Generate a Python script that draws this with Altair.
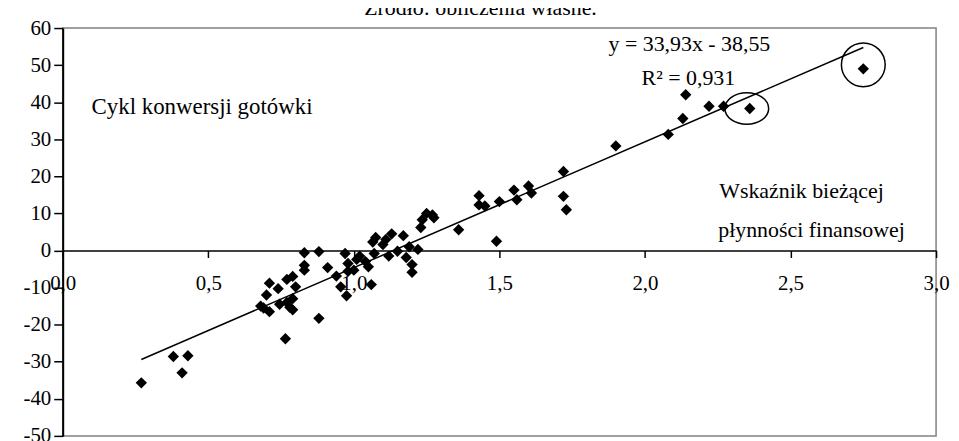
import altair as alt
import pandas as pd

FONT = "Liberation Serif"

# scatter values
x_vals = [0.27, 0.38, 0.41, 0.43,
          0.68, 0.69, 0.70, 0.71, 0.71, 0.74, 0.745, 0.765, 0.77, 0.77, 0.78, 0.79, 0.79, 0.79, 0.80,
          0.83, 0.83, 0.83, 0.88, 0.88, 0.91, 0.94, 0.955, 0.975, 0.97, 0.98, 0.98, 1.00, 1.01, 1.02,
          1.04, 1.05, 1.06, 1.065, 1.07,
          1.075, 1.10, 1.11, 1.12, 1.13, 1.15, 1.17, 1.18, 1.19, 1.20, 1.20, 1.22, 1.23, 1.235, 1.25,
          1.27, 1.275, 1.36,
          1.43, 1.43, 1.45, 1.49, 1.50, 1.55, 1.56, 1.60, 1.61, 1.72, 1.72, 1.73, 1.90, 2.08, 2.13,
          2.14, 2.22, 2.27, 2.36, 2.75]
y_vals = [-35.7, -28.6, -33.0, -28.4,
          -15.0, -15.5, -12.0, -8.8, -16.5, -10.3, -14.5, -23.8, -7.8, -14.0, -15.3, -7.0, -13.0, -16.0, -9.8,
          -0.6, -4.0, -5.3, -0.3, -18.3, -4.6, -6.9, -9.8, -12.2, -0.8, -3.5, -5.6, -5.3, -2.4, -1.5,
          -3.0, -4.4, -9.2, 2.3, -0.8,
          3.5, 1.6, 3.0, -1.5, 4.5, -0.2, 4.0, -1.9, 1.0, -3.8, -5.9, 0.3, 6.2, 8.3, 10.0,
          9.6, 8.8, 5.6,
          14.8, 12.3, 12.0, 2.5, 13.2, 16.3, 13.7, 17.4, 15.5, 21.3, 14.6, 11.0, 28.2, 31.3, 35.6,
          42.0, 38.9, 38.9, 38.3, 49.0]

# trend line (linear regression shown in the picture)
slope = 33.93
intercept = -38.55
trend_x = [0.27, 2.75]

# circled outliers
ellipse_x = [2.36]
ellipse_y = [38.3]
circle_x = [2.75]
circle_y = [49.0]

x_ticks = [0.0, 0.5, 1.0, 1.5, 2.0, 2.5, 3.0]
y_ticks = [-50, -40, -30, -20, -10, 0, 10, 20, 30, 40, 50, 60]

title_text = "Źródło: obliczenia własne."
eq_text = "y = 33,93x - 38,55"
r2_text = "R² = 0,931"
y_name = "Cykl konwersji gotówki"
x_name_1 = "Wskaźnik bieżącej"
x_name_2 = "płynności finansowej"

W, H = 878, 410

df = pd.DataFrame({"x": x_vals, "y": y_vals})
trend_df = pd.DataFrame({"x": trend_x, "y": [slope * v + intercept for v in trend_x]})

xscale = alt.Scale(domain=[0, 3], nice=False, zero=False)
yscale = alt.Scale(domain=[-50, 60], nice=False, zero=False)

x_axis = alt.Axis(values=x_ticks, title=None, grid=False, domainColor="black", domainWidth=1.5,
                  tickColor="black", tickWidth=1.5, tickSize=7, labelFont=FONT, labelFontSize=21,
                  labelColor="black", labelPadding=15, labelFlush=False, labelOverlap=False,
                  labelBound=False,
                  labelExpr="replace(format(datum.value, '.1f'), '.', ',')",
                  offset=-(H * 50 / 110))
y_axis = alt.Axis(values=y_ticks, title=None, grid=False, domainColor="black", domainWidth=2,
                  tickColor="black", tickWidth=1.5, tickSize=9, labelFont=FONT, labelFontSize=21,
                  labelColor="black", labelPadding=3, labelFlush=False, labelOverlap=False,
                  labelBound=False, labelSeparation=0,
                  labelExpr="'' + datum.value")


def X():
    return alt.X("x:Q", scale=xscale, axis=x_axis)


def Y():
    return alt.Y("y:Q", scale=yscale, axis=y_axis)


points = alt.Chart(df).mark_point(shape="diamond", filled=True, color="black", size=130, opacity=1).encode(
    x=X(), y=Y())

trend = alt.Chart(trend_df).mark_line(color="black", strokeWidth=1.5).encode(x=X(), y=Y())

ellipse = alt.Chart(pd.DataFrame({"x": ellipse_x, "y": ellipse_y})).mark_point(
    shape="M-1,0 A1,0.72 0 1,0 1,0 A1,0.72 0 1,0 -1,0 Z", filled=False, color="black",
    strokeWidth=1.5, size=1936, opacity=1, xOffset=-3).encode(x=X(), y=Y())

circle = alt.Chart(pd.DataFrame({"x": circle_x, "y": circle_y})).mark_point(
    shape="circle", filled=False, color="black", strokeWidth=1.5, size=1936, opacity=1,
    yOffset=-4).encode(x=X(), y=Y())


def label(text, x, y, align, size=22):
    return alt.Chart(pd.DataFrame({"t": [text]})).mark_text(
        align=align, baseline="alphabetic", font=FONT, fontSize=size, color="black").encode(
        x=alt.value(x), y=alt.value(y), text="t:N")


chart = alt.layer(
    points, trend, ellipse, circle,
    label(title_text, 420, -13, "center"),
    label(y_name, 29, 86, "left", 23),
    label(eq_text, 630, 23, "center"),
    label(r2_text, 629, 57, "center"),
    label(x_name_1, 660, 171, "left"),
    label(x_name_2, 659, 210, "left"),
).properties(
    width=W, height=H,
    padding={"left": 55, "top": 19, "right": 15, "bottom": 4},
    autosize=alt.AutoSizeParams(type="none"),
    background="white",
).configure_view(stroke="#808080", strokeWidth=1.5)

chart.save("out.html", embed_options={"renderer": "svg", "actions": False})
